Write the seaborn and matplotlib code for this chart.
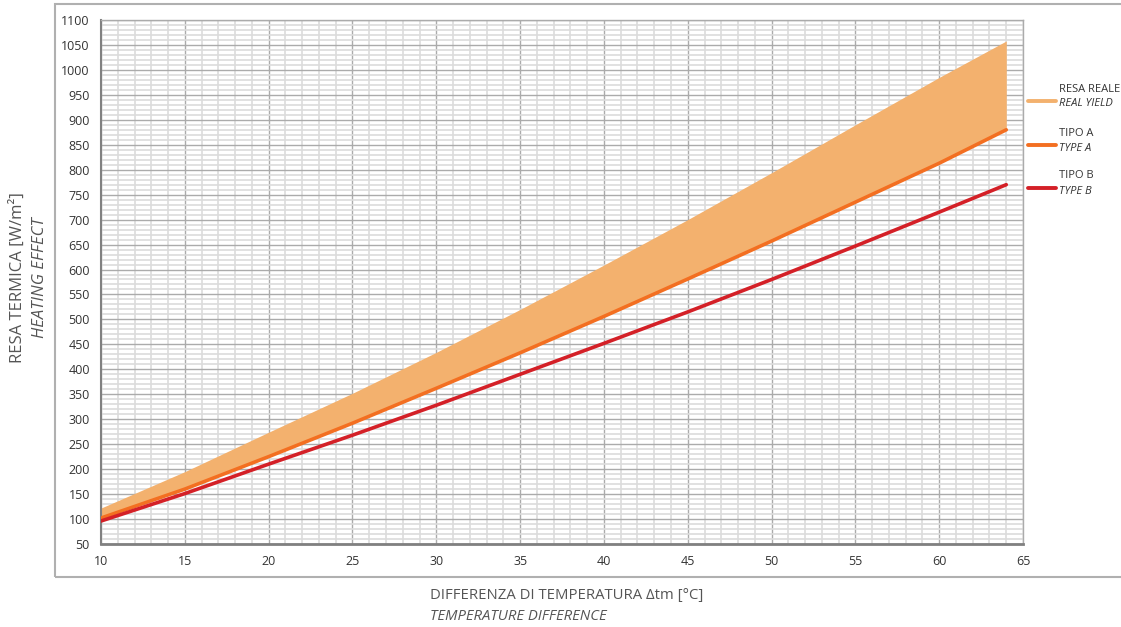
import numpy as np
import pandas as pd
import matplotlib
matplotlib.use("Agg")
import matplotlib.pyplot as plt
import seaborn as sns
from matplotlib.lines import Line2D
from matplotlib.patches import Rectangle

# values
delta_t = [10, 15, 20, 25, 30, 35, 40, 45, 50, 55, 60, 64]
real_yield_top = [122, 195, 274, 352, 434, 520, 609, 700, 794, 890, 985, 1058]
tipo_a = [102, 160, 225, 292, 362, 433, 506, 581, 657, 735, 813, 880]
tipo_b = [96, 151, 210, 268, 328, 390, 452, 515, 580, 647, 715, 770]

x_ticks = list(range(10, 66, 5))
y_ticks = list(range(50, 1101, 50))

C_BAND = "#f3b16e"
C_A = "#f36f21"
C_B = "#d42027"
GREY_TXT = "#555555"

sns.set_style("white")
plt.rcParams["font.family"] = ["Open Sans", "DejaVu Sans"]

df = pd.DataFrame({"dt": delta_t * 2,
                   "val": tipo_a + tipo_b,
                   "serie": ["TIPO A"] * len(delta_t) + ["TIPO B"] * len(delta_t)})

fig = plt.figure(figsize=(11.21, 6.27), dpi=100)
ax = fig.add_axes([0.0901, 0.1324, 0.8225, 0.8357])

ax.fill_between(delta_t, tipo_a, real_yield_top, color=C_BAND, lw=0, zorder=2)
sns.lineplot(data=df, x="dt", y="val", hue="serie", palette={"TIPO A": C_A, "TIPO B": C_B},
             lw=2.6, legend=False, ax=ax, zorder=3)

ax.set_xlim(10, 65)
ax.set_ylim(50, 1100)
ax.set_xticks(x_ticks)
ax.set_yticks(y_ticks)
ax.set_xticks(np.arange(10, 66, 1), minor=True)
ax.set_yticks(np.arange(50, 1101, 10), minor=True)
ax.grid(which="minor", color="#dcdcdc", lw=1.2, zorder=0)
ax.grid(which="major", color="#ababab", lw=1.0, zorder=1)
ax.set_axisbelow(True)
ax.tick_params(which="major", length=5, width=1, color="#909090", labelsize=9,
               labelcolor="#333333", pad=3)
ax.tick_params(which="minor", length=0)
for side in ["top", "right"]:
    ax.spines[side].set_color("#ababab")
    ax.spines[side].set_linewidth(1.0)
ax.spines["left"].set_color("#808080")
ax.spines["left"].set_linewidth(1.5)
ax.spines["bottom"].set_color("#808080")
ax.spines["bottom"].set_linewidth(2.0)
ax.set_xlabel("")
ax.set_ylabel("")

# outer frame
fig.add_artist(Rectangle((55 / 1121, 1 - 577 / 627), 1.0, (577 - 4) / 627,
                         transform=fig.transFigure, fill=False, ec="#b0b0b0", lw=1.5))

# axis titles
fig.text(18 / 1121, 1 - 278 / 627, "RESA TERMICA [W/m\u00b2]", rotation=90, ha="center",
         va="center", fontsize=12, color=GREY_TXT)
fig.text(40 / 1121, 1 - 278 / 627, "HEATING EFFECT", rotation=90, ha="center",
         va="center", fontsize=12, color=GREY_TXT, style="italic")
fig.text(430 / 1121, 1 - 595 / 627, "DIFFERENZA DI TEMPERATURA \u0394tm [°C]", ha="left",
         va="center", fontsize=10.7, color=GREY_TXT)
fig.text(430 / 1121, 1 - 616 / 627, "TEMPERATURE DIFFERENCE", ha="left",
         va="center", fontsize=10.7, color=GREY_TXT, style="italic")

# legend
legend_items = [("RESA REALE", "REAL YIELD", C_BAND, 96),
                ("TIPO A", "TYPE A", C_A, 140),
                ("TIPO B", "TYPE B", C_B, 183)]
for top, bottom, col, yc in legend_items:
    fig.add_artist(Line2D([1028 / 1121, 1056 / 1121], [1 - (yc + 5) / 627] * 2,
                          transform=fig.transFigure, color=col, lw=2.8))
    fig.text(1059 / 1121, 1 - (yc - 7) / 627, top, ha="left", va="center",
             fontsize=8, color="#333333")
    fig.text(1059 / 1121, 1 - (yc + 8) / 627, bottom, ha="left", va="center",
             fontsize=8, color="#333333", style="italic")

fig.savefig("out.png", dpi=100)
